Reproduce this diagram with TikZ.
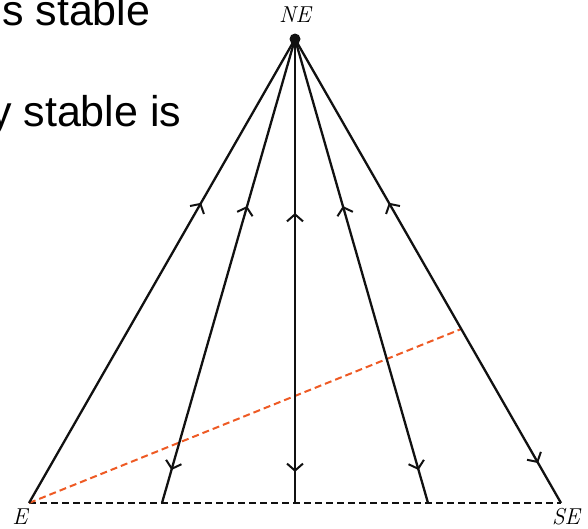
\documentclass[tikz,border=0pt]{standalone}
\usepackage{fontspec}
\newfontfamily\notefont{Liberation Sans}
\usetikzlibrary{arrows.meta,decorations.markings,calc,positioning}
\definecolor{flowInk}{HTML}{111111}
\definecolor{flowOrange}{HTML}{EE5A24}
\tikzset{
    barb/.tip={Straight Barb[length=7pt,width=16pt,line width=2pt]},
    orbit/.style={line width=2.3pt, draw=flowInk},
    upflow/.style={postaction={decorate}, decoration={markings,
        mark=at position #1 with {\arrowreversed{barb}}}},
    bothflow/.style 2 args={postaction={decorate}, decoration={markings,
        mark=at position #1 with {\arrowreversed{barb}},
        mark=at position #2 with {\arrow{barb}}}},
    edge/.style={line width=2pt, draw=flowInk, dash pattern=on 7pt off 4pt},
    divider/.style={line width=2pt, draw=flowOrange, dash pattern=on 7pt off 4pt},
    fixpt/.style={circle, fill=flowInk, inner sep=0pt, minimum size=11pt},
    vlabel/.style={font=\fontsize{23}{26}\selectfont\itshape, inner sep=1pt},
    note/.style={font=\notefont\fontsize{43}{48}\selectfont, inner sep=0pt, anchor=base west}
}
\begin{document}
\begin{tikzpicture}[x=1pt,y=-1pt]
\useasboundingbox (0,0) rectangle (588,528);
% leftover text from the page
\node[note] (txtA) at (2,25) {s stable};
\node[note] (txtB) at (-10,126) {y stable is};
% vertices of the simplex
\node[fixpt] (NE) at (295,39) {};
\coordinate (E) at (29,503);
\coordinate (SE) at (561,503);
\coordinate (b2) at (162,503);
\coordinate (b3) at (295,503);
\coordinate (b4) at (428,503);
\coordinate (cut) at ($(NE.center)!0.625!(SE)$);
\node[vlabel] (lNE) at (295,15) {NE};
\node[vlabel] (lE) at (20,517) {E};
\node[vlabel] (lSE) at (566,517) {SE};
% bottom edge and separatrix
\draw[edge] (E) -- (SE);
\draw[divider] (E) -- (cut);
% trajectories
\draw[orbit, upflow=0.353] (NE.center) -- (E);
\draw[orbit, bothflow={0.36}{0.929}] (NE.center) -- (b2);
\draw[orbit, bothflow={0.375}{0.933}] (NE.center) -- (b3);
\draw[orbit, bothflow={0.36}{0.929}] (NE.center) -- (b4);
\draw[orbit, bothflow={0.353}{0.914}] (NE.center) -- (SE);
\end{tikzpicture}
\end{document}
